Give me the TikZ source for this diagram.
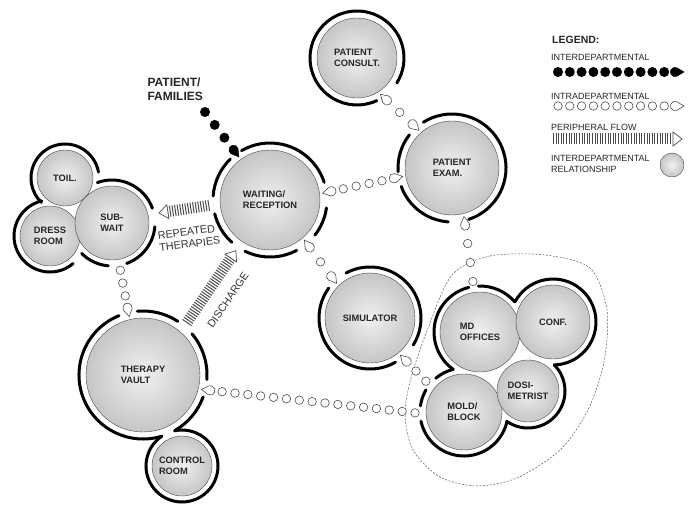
\documentclass[tikz,border=0pt]{standalone}
\usepackage{fontspec}
\setmainfont{Liberation Sans}
\usetikzlibrary{decorations.markings}

\newcommand{\lblfont}{\fontsize{9.3}{11}\selectfont\bfseries}
\newcommand{\notefont}{\fontsize{10.8}{12.5}\selectfont}
\newcommand{\ringarc}[4]{\draw[ring] (#1.center) ++(#3:#2) arc[start angle=#3, end angle=#4, radius=#2];}
\newcommand{\headpath}{(8pt,0) -- ([xshift=-1pt]70:4.7pt) arc[start angle=70, end angle=290, radius=4.7pt] -- cycle}

\tikzset{
  ball/.style={circle, minimum size=#1, inner sep=0pt, outer sep=11pt, draw=gray!55!black, line width=0.4pt,
    inner color=gray!12, outer color=gray!45, font=\lblfont, text=black!85, align=left},
  ring/.style={line width=3pt, line cap=round},
  bead/.style={circle, draw=gray!60!black, fill=white, line width=0.6pt, inner sep=0pt, minimum size=8.5pt},
  blackdot/.style={circle, fill=black, inner sep=0pt, minimum size=10pt},
  tear/.style={draw=gray!60!black, fill=white, line width=0.6pt},
  blacktear/.style={draw=black, fill=black},
  intra/.style={decorate, decoration={markings, mark=between positions 0 and 0.97 step #1 with {\node[bead] {};}}},
  inter/.style={decorate, decoration={markings, mark=between positions 0 and 0.97 step #1 with {\node[blackdot] {};}}},
  tipend/.style={decoration={markings, mark=at position 1 with {\draw[#1] \headpath;}}},
  tipend/.default=tear,
  tipstart/.style={decoration={markings, mark=at position 0 with {\draw[tear, rotate=180] \headpath;}}},
  peri/.style={draw=gray!60!black, line width=11pt, dash pattern=on 1pt off 1.6pt, shorten >=8pt,
    postaction={decorate, decoration={markings, mark=at position 1 with
    {\draw[solid, line width=0.7pt, shorten >=0pt, draw=gray!60!black, fill=white] (-9pt,7pt) -- (0pt,0pt) -- (-9pt,-7pt) -- cycle;}}}},
  zone/.style={draw=gray!70!black, line width=0.5pt, dash pattern=on 2pt off 1.5pt},
  note/.style={font=\notefont, text=black!80, align=left, inner sep=0pt},
  legendtext/.style={font=\fontsize{9}{11.5}\selectfont, text=black!85, align=left, inner sep=0pt, anchor=west}
}

\begin{document}
\begin{tikzpicture}[x=1pt, y=-1pt]%
   % 1 unit = 1 pt, y counted downward as on the sheet
   \useasboundingbox (0,0) rectangle (688,505);

   % Dashed zone round the staff rooms
   \draw[zone] plot[smooth cycle] coordinates {(452,275) (490,256) (545,255) (590,268) (607,310) (604,362)
     (588,410) (560,450) (517,478) (477,486) (440,477) (413,450) (405,415) (411,378) (428,328)};

   % Rooms
   \node[ball=100pt] (wait) at (270,200) {WAITING/\\RECEPTION};
   \node[ball=80pt] (consult) at (357,58) {PATIENT\\CONSULT.};
   \node[ball=94pt] (exam) at (452,168) {PATIENT\\EXAM.};
   \node[ball=90pt] (sim) at (370,318) {SIMULATOR};
   \node[ball=80pt] (md) at (480,332) {MD\\OFFICES};
   \node[ball=74pt] (conf) at (553,322) {CONF.};
   \node[ball=76pt] (mold) at (464,412) {MOLD/\\BLOCK};
   \node[ball=62pt] (dosi) at (528,391) {DOSI-\\METRIST};
   \node[ball=114pt] (vault) at (143,375) {THERAPY\\VAULT};
   \node[ball=60pt] (control) at (182,466) {CONTROL\\ROOM};
   \node[ball=56pt] (toil) at (65,178) {TOIL.};
   \node[ball=60pt] (dress) at (50,236) {DRESS\\ROOM};
   \node[ball=74pt] (subwait) at (112,223) {SUB-\\WAIT};

   % Outer walls, open where the flows come in
   \ringarc{wait}{57pt}{18}{120}
   \ringarc{wait}{57pt}{134}{176}
   \ringarc{wait}{57pt}{194}{228}
   \ringarc{wait}{57pt}{244}{298}
   \ringarc{wait}{57pt}{322}{352}
   \ringarc{consult}{47pt}{-32}{295}
   \ringarc{exam}{54pt}{-72}{122}
   \ringarc{exam}{54pt}{142}{184}
   \ringarc{exam}{54pt}{200}{266}
   \ringarc{sim}{51pt}{-32}{118}
   \ringarc{sim}{51pt}{144}{300}
   \ringarc{md}{46pt}{41}{92}
   \ringarc{md}{46pt}{104}{234}
   \ringarc{conf}{43pt}{-88}{152}
   \ringarc{dosi}{37pt}{-125}{45}
   \ringarc{mold}{44pt}{104}{130}
   \ringarc{mold}{44pt}{150}{172}
   \ringarc{mold}{44pt}{192}{348}
   \ringarc{vault}{64pt}{-60}{-20}
   \ringarc{vault}{64pt}{-4}{40}
   \ringarc{vault}{64pt}{57}{95}
   \ringarc{vault}{64pt}{112}{287}
   \ringarc{control}{36pt}{124}{462}
   \ringarc{toil}{34pt}{10}{226}
   \ringarc{dress}{36pt}{103}{310}
   \ringarc{subwait}{43pt}{225}{265}
   \ringarc{subwait}{43pt}{290}{355}
   \ringarc{subwait}{43pt}{20}{110}

   % Patients and families come in
   \node[font=\fontsize{12}{14}\selectfont\bfseries, text=black!85, align=left, anchor=west] (pf) at (144,89) {PATIENT/\\FAMILIES};
   \coordinate (pfout) at (205,112);
   \path[inter=0.333, tipend=blacktear] (pfout) -- (wait.126);

   % Intradepartmental flows
   \path[intra=0.2, tipstart, tipend] (wait.8) -- (exam.190);
   \path[intra=0.5, tipstart, tipend] (consult.305) -- (exam.132);
   \path[intra=0.5, tipstart, tipend] (wait.310) -- (sim.133);
   \path[intra=0.333, tipend] (md.98) -- (exam.283);
   \path[intra=0.5, tipend] (mold.141) -- (sim.310);
   \path[intra=0.0625, tipend] (mold.181) -- (vault.347);
   \path[intra=0.333, tipend] (subwait.280) -- (vault.103);

   % Peripheral flows
   \draw[peri] (wait.185) -- (subwait.12);
   \node[note, rotate=7] (rep) at (189,238) {REPEATED\\THERAPIES};
   \draw[peri] (vault.50) -- (wait.236);
   \node[note, rotate=55.6] (dis) at (228,300) {DISCHARGE};

   % Legend
   \node[font=\fontsize{10.5}{12}\selectfont\bfseries, text=black!85, anchor=west, inner sep=0pt] (lg) at (552,40) {LEGEND:};
   \node[legendtext] (lgt1) at (551,57) {INTERDEPARTMENTAL};
   \coordinate (lg1a) at (558,72);
   \coordinate (lg1b) at (676,72);
   \path[inter=0.1, tipend=blacktear] (lg1a) -- (lg1b);
   \node[legendtext] (lgt2) at (551,96) {INTRADEPARTMENTAL};
   \coordinate (lg2a) at (558,106);
   \coordinate (lg2b) at (676,106);
   \path[intra=0.1, tipend] (lg2a) -- (lg2b);
   \node[legendtext] (lgt3) at (551,127) {PERIPHERAL FLOW};
   \coordinate (lg3a) at (553,139);
   \coordinate (lg3b) at (682,139);
   \draw[peri] (lg3a) -- (lg3b);
   \node[legendtext] (lgt4) at (551,164) {INTERDEPARTMENTAL\\RELATIONSHIP};
   \node[ball=24pt] (lgball) at (672,165) {};
 \end{tikzpicture}
\end{document}
